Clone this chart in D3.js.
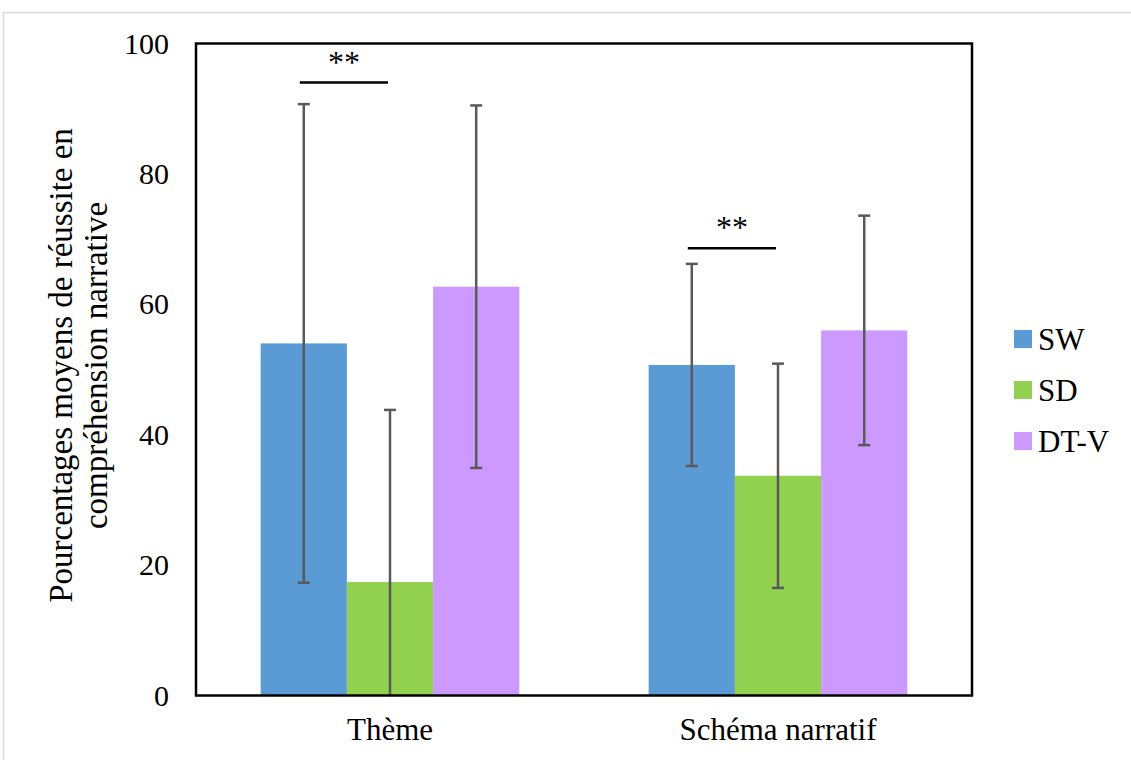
<!DOCTYPE html>
<html>
<head>
<meta charset="utf-8">
<script src="https://cdn.jsdelivr.net/npm/d3@7"></script>
<style>
  html, body { margin: 0; padding: 0; background: #fff; }
  svg { display: block; }
  text { font-family: "Liberation Serif", "Times New Roman", serif; fill: #000; }
</style>
</head>
<body>
<svg id="chart" width="1131" height="760"></svg>
<script>
// ---- data ----
const categories = ["Thème", "Schéma narratif"];
const seriesNames = ["SW", "SD", "DT-V"];
const seriesColors = ["#5B9BD5", "#92D050", "#CC99FF"];
const swValues = [54.0, 50.7];
const sdValues = [17.4, 33.7];
const dtvValues = [62.7, 56.0];
const swErrors = [36.7, 15.5];
const sdErrors = [26.4, 17.2];
const dtvErrors = [27.8, 17.6];
const yTicks = [0, 20, 40, 60, 80, 100];
const sigCategories = ["Thème", "Schéma narratif"];
const sigLevels = [94.0, 68.6];
const sigLabels = ["**", "**"];
const yTitleLines = ["Pourcentages moyens de réussite en", "compréhension narrative"];

const values = [swValues, sdValues, dtvValues];
const errors = [swErrors, sdErrors, dtvErrors];

// ---- layout ----
const svg = d3.select("#chart");
const plot = { left: 196, right: 972, top: 43.5, bottom: 695.5 };

svg.append("rect")
  .attr("x", 3.5).attr("y", 12.5)
  .attr("width", 1200).attr("height", 900)
  .attr("fill", "none").attr("stroke", "#d9d9d9").attr("stroke-width", 1.5);

const x0 = d3.scaleBand().domain(categories).range([plot.left, plot.right]).paddingInner(0).paddingOuter(0);
const x1 = d3.scaleBand().domain(seriesNames).range([0, x0.bandwidth()]).paddingInner(0).paddingOuter(0.75);
const y = d3.scaleLinear().domain([0, 100]).range([plot.bottom, plot.top]);

const rows = [];
categories.forEach((c, ci) => {
  seriesNames.forEach((s, si) => {
    rows.push({ cat: c, ser: s, color: seriesColors[si], v: values[si][ci], e: errors[si][ci] });
  });
});

svg.append("g").selectAll("rect").data(rows).enter().append("rect")
  .attr("x", d => x0(d.cat) + x1(d.ser))
  .attr("y", d => y(d.v))
  .attr("width", x1.bandwidth())
  .attr("height", d => y(0) - y(d.v))
  .attr("fill", d => d.color);

const eg = svg.append("g").attr("stroke", "#595959").attr("stroke-width", 2.5);
rows.forEach(d => {
  const cx = x0(d.cat) + x1(d.ser) + x1.bandwidth() / 2;
  const hi = d.v + d.e, lo = Math.max(0, d.v - d.e);
  eg.append("line").attr("x1", cx).attr("x2", cx).attr("y1", y(hi)).attr("y2", y(lo));
  eg.append("line").attr("x1", cx - 6).attr("x2", cx + 6).attr("y1", y(hi)).attr("y2", y(hi));
  if (d.v - d.e > 0) {
    eg.append("line").attr("x1", cx - 6).attr("x2", cx + 6).attr("y1", y(lo)).attr("y2", y(lo));
  }
});

sigCategories.forEach((c, i) => {
  const xa = x0(c) + x1("SW") + x1.bandwidth() / 2 - 4;
  const xb = x0(c) + x1("SD") + x1.bandwidth() / 2 - 2;
  const yy = y(sigLevels[i]);
  svg.append("line").attr("x1", xa).attr("x2", xb).attr("y1", yy).attr("y2", yy)
    .attr("stroke", "#000").attr("stroke-width", 2.5);
  svg.append("text").attr("x", (xa + xb) / 2).attr("y", yy - 10)
    .attr("text-anchor", "middle").attr("font-size", 32).text(sigLabels[i]);
});

svg.append("rect")
  .attr("x", plot.left).attr("y", plot.top)
  .attr("width", plot.right - plot.left).attr("height", plot.bottom - plot.top)
  .attr("fill", "none").attr("stroke", "#000").attr("stroke-width", 2.5);

const yAxis = d3.axisLeft(y).tickValues(yTicks).tickSize(0).tickPadding(27);
const gy = svg.append("g").attr("transform", `translate(${plot.left},0)`).call(yAxis);
gy.select(".domain").remove();
gy.selectAll("text").attr("font-size", 30).attr("font-family", "Liberation Serif, serif").attr("fill", "#000");

const xAxis = d3.axisBottom(x0).tickSize(0).tickPadding(22);
const gx = svg.append("g").attr("transform", `translate(0,${plot.bottom})`).call(xAxis);
gx.select(".domain").remove();
gx.selectAll("text").attr("font-size", 31).attr("font-family", "Liberation Serif, serif").attr("fill", "#000");

const cy = (plot.top + plot.bottom) / 2 - 4;
const yt = svg.append("text")
  .attr("transform", `translate(72,${cy}) rotate(-90)`)
  .attr("text-anchor", "middle").attr("font-size", 33);
yTitleLines.forEach((t, i) => {
  yt.append("tspan").attr("x", 0).attr("dy", i === 0 ? 0 : 35).text(t);
});

const lg = svg.append("g");
seriesNames.forEach((s, i) => {
  const ly = 339 + i * 51;
  lg.append("rect").attr("x", 1014).attr("y", ly - 9).attr("width", 18).attr("height", 18)
    .attr("fill", seriesColors[i]);
  lg.append("text").attr("x", 1038).attr("y", ly + 11).attr("font-size", 31).text(s);
});
</script>
</body>
</html>
